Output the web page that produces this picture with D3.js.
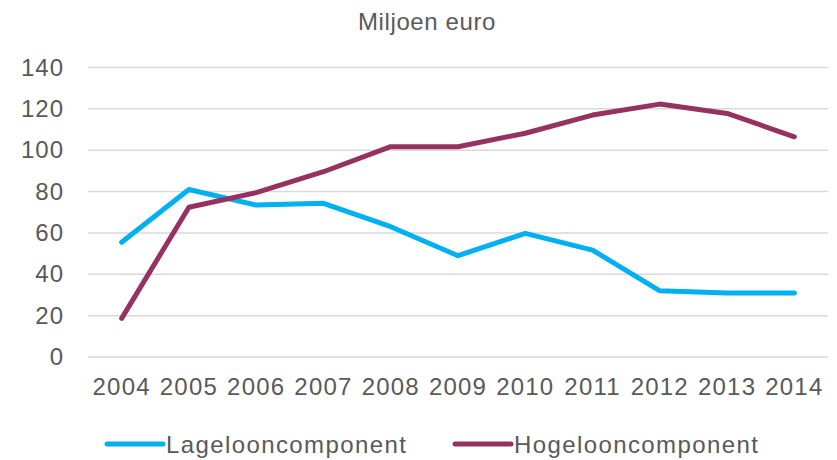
<!DOCTYPE html>
<html>
<head>
<meta charset="utf-8">
<script src="https://cdn.jsdelivr.net/npm/d3@7"></script>
<style>
  body { margin: 0; background: #fff; }
  text { font-family: "Liberation Sans", Arial, sans-serif; fill: #595959; }
</style>
</head>
<body>
<div id="chart"></div>
<script>
// data
var years = ["2004","2005","2006","2007","2008","2009","2010","2011","2012","2013","2014"];
var lageloon = [55.5, 81, 73.5, 74.3, 63, 49, 59.8, 51.7, 32, 31, 31];
var hogeloon = [18.7, 72.4, 79.5, 89.6, 101.7, 101.7, 108.2, 117, 122.3, 117.8, 106.5];
var yTicks = [0, 20, 40, 60, 80, 100, 120, 140];
var seriesNames = ["Lagelooncomponent", "Hogelooncomponent"];
var seriesColors = ["#00b0f0", "#953262"];

var width = 837, height = 460;

var svg = d3.select("#chart")
    .append("svg")
    .attr("width", width)
    .attr("height", height);

var x = d3.scaleBand()
    .domain(years)
    .range([88, 828]);

var y = d3.scaleLinear()
    .domain([0, 140])
    .range([357, 67.5]);

// title
svg.append("text")
    .attr("x", 427)
    .attr("y", 21)
    .attr("text-anchor", "middle")
    .attr("dominant-baseline", "central")
    .style("font-size", "24px")
    .style("letter-spacing", "0.6px")
    .text("Miljoen euro");

// gridlines
svg.append("g")
    .selectAll("line")
    .data(yTicks)
    .join("line")
    .attr("x1", 88)
    .attr("x2", 828)
    .attr("y1", function(d){ return y(d); })
    .attr("y2", function(d){ return y(d); })
    .attr("stroke", "#d9d9d9")
    .attr("stroke-width", 1.5);

// y axis labels
var yAxis = svg.append("g")
    .attr("transform", "translate(64,0)")
    .call(d3.axisLeft(y).tickValues(yTicks).tickSize(0).tickPadding(0));
yAxis.select(".domain").remove();
yAxis.selectAll("text")
    .style("font-size", "24px")
    .style("letter-spacing", "1px")
    .attr("fill", "#595959");

// x axis labels
var xAxis = svg.append("g")
    .attr("transform", "translate(0,378)")
    .call(d3.axisBottom(x).tickSize(0).tickPadding(0));
xAxis.select(".domain").remove();
xAxis.selectAll("text")
    .style("font-size", "24px")
    .style("letter-spacing", "1.2px")
    .attr("fill", "#595959");

// lines
var line = d3.line()
    .x(function(d, i){ return x(years[i]) + x.bandwidth() / 2; })
    .y(function(d){ return y(d); });

[lageloon, hogeloon].forEach(function(series, i){
    svg.append("path")
        .datum(series)
        .attr("d", line)
        .attr("fill", "none")
        .attr("stroke", seriesColors[i])
        .attr("stroke-width", 5)
        .attr("stroke-linejoin", "round")
        .attr("stroke-linecap", "round");
});

// legend
var legendX = [107, 455];
var legend = svg.append("g")
    .selectAll("g")
    .data(seriesNames)
    .join("g")
    .attr("transform", function(d, i){ return "translate(" + legendX[i] + ",444)"; });

legend.append("line")
    .attr("x1", 0)
    .attr("x2", 56)
    .attr("stroke", function(d, i){ return seriesColors[i]; })
    .attr("stroke-width", 5)
    .attr("stroke-linecap", "round");

legend.append("text")
    .attr("x", 59)
    .attr("dominant-baseline", "central")
    .style("font-size", "24px")
    .style("letter-spacing", "1.4px")
    .text(function(d){ return d; });
</script>
</body>
</html>
